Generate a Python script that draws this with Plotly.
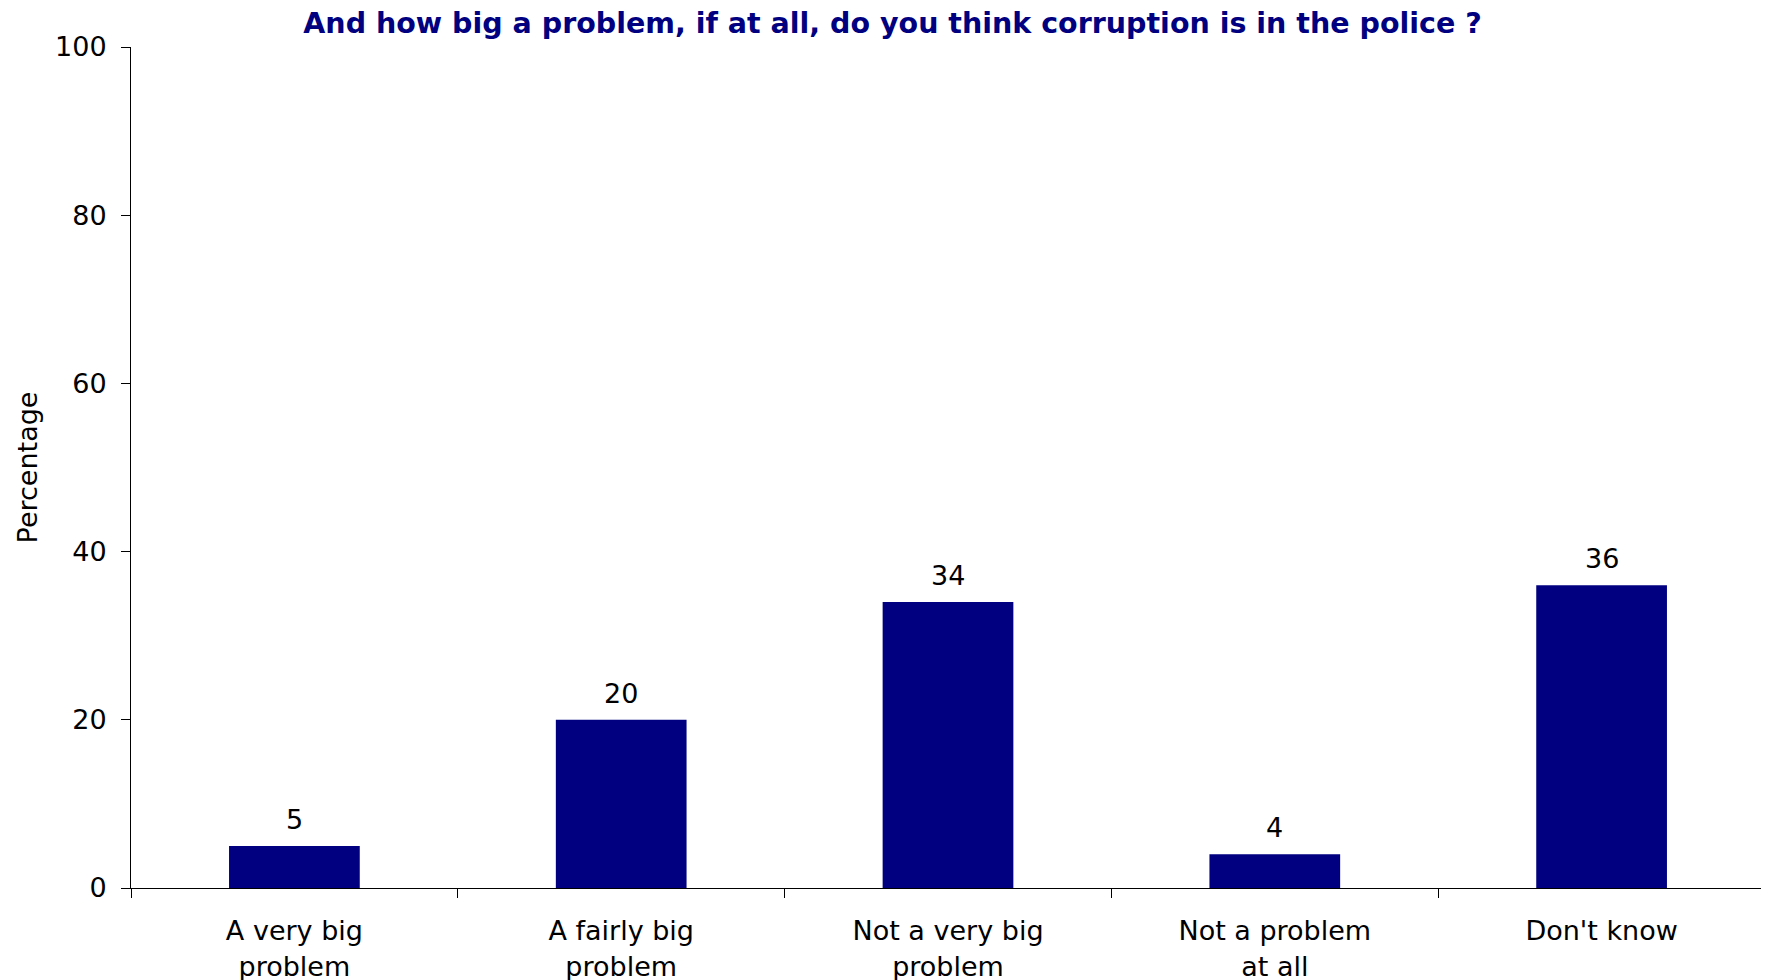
import plotly.graph_objects as go

categories = ["A very big<br>problem", "A fairly big<br>problem", "Not a very big<br>problem",
              "Not a problem<br>at all", "Don't know"]
values = [5, 20, 34, 4, 36]
y_ticks = [0, 20, 40, 60, 80, 100]

FONT = "DejaVu Sans"
NAVY = "#000080"

fig = go.Figure()
fig.add_trace(go.Bar(
    x=categories, y=values,
    marker=dict(color=NAVY, line=dict(width=0)),
    cliponaxis=False,
))

for c, v in zip(categories, values):
    fig.add_annotation(x=c, y=v, text=str(v), showarrow=False,
                       yanchor="bottom", yshift=9,
                       font=dict(family=FONT, size=27, color="black"))

# the page body adds an 8 px offset; margins compensate for it
fig.update_layout(
    width=1769, height=980,
    paper_bgcolor="white", plot_bgcolor="white",
    margin=dict(l=123, r=12, t=39, b=100),
    bargap=0.6,
    showlegend=False,
    title=dict(text="<b>And how big a problem, if at all, do you think corruption is in the police ?</b>",
               x=0.5, xanchor="center", y=0.9845, yanchor="middle",
               font=dict(family=FONT, size=28.5, color=NAVY)),
    xaxis=dict(
        automargin=False,
        showline=True, linecolor="black", linewidth=1,
        ticks="outside", tickson="boundaries", ticklen=9, tickcolor="black",
        tickfont=dict(family=FONT, size=27, color="black"),
        ticklabelstandoff=19,
        showgrid=False, zeroline=False,
    ),
    yaxis=dict(
        automargin=False,
        range=[0, 100], tickvals=y_ticks,
        showline=True, linecolor="black", linewidth=1,
        ticks="outside", ticklen=9, tickcolor="black",
        tickfont=dict(family=FONT, size=27, color="black"),
        ticklabelstandoff=9,
        showgrid=False, zeroline=False,
        title=dict(text="Percentage", font=dict(family=FONT, size=27, color="black"), standoff=9),
    ),
)

fig.write_html("out.html")
